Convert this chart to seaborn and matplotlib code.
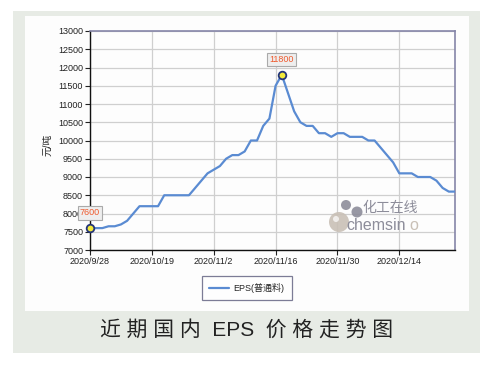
import numpy as np
import pandas as pd
import matplotlib
matplotlib.use("Agg")
import matplotlib.pyplot as plt
from matplotlib.patches import Rectangle, Circle
import seaborn as sns

# EPS price per trading day (yuan/ton)
prices = [7600, 7600, 7600, 7650, 7650, 7700, 7800, 8000, 8200, 8200,
          8200, 8200, 8500, 8500, 8500, 8500, 8500, 8700, 8900, 9100,
          9200, 9300, 9500, 9600, 9600, 9700, 10000, 10000, 10400, 10600,
          11500, 11800, 11300, 10800, 10500, 10400, 10400, 10200, 10200, 10100,
          10200, 10200, 10100, 10100, 10100, 10000, 10000, 9800, 9600, 9400,
          9100, 9100, 9100, 9000, 9000, 9000, 8900, 8700, 8600, 8600]
tick_pos = [0, 10, 20, 30, 40, 50]
tick_labels = ["2020/9/28", "2020/10/19", "2020/11/2", "2020/11/16", "2020/11/30", "2020/12/14"]
highlight = [0, 31]
series_name = "EPS(普通料)"

df = pd.DataFrame({"day": np.arange(len(prices)), "price": prices})

sns.set_style("whitegrid")
plt.rcParams['font.family'] = ['Liberation Sans', 'Noto Sans CJK SC', 'DejaVu Sans']

W, H = 494, 368
fig = plt.figure(figsize=(W / 100, H / 100), dpi=100)
fig.patch.set_facecolor("white")

# background: outer grey-green panel and inner white card (pixel coords)
bg = fig.add_axes([0, 0, 1, 1], zorder=-5)
bg.set_xlim(0, W)
bg.set_ylim(H, 0)
bg.axis("off")
bg.add_patch(Rectangle((13, 11), 467, 342, facecolor="#e7ebe5", edgecolor="none"))
bg.add_patch(Rectangle((25, 16), 444, 295, facecolor="#fdfdfd", edgecolor="none"))

ax = fig.add_axes([90 / W, 1 - 250 / H, 365 / W, 219 / H], zorder=1)
ax.set_facecolor("#fdfdfd")

sns.lineplot(data=df, x="day", y="price", ax=ax, color="#5a8bd2", linewidth=1.6,
             label=series_name, zorder=3)

# highlighted points with value boxes
for i in highlight:
    ax.scatter(df.day[i], df.price[i], s=30, facecolor="#f2e93a", edgecolor="#24357a",
               linewidth=1.3, zorder=5, clip_on=False)
    ax.annotate(f"{df.price[i]}", (df.day[i], df.price[i]), xytext=(0, 11), textcoords="offset points",
                ha="center", va="center", fontsize=6.5, color="#ef5a2e",
                bbox=dict(boxstyle="square,pad=0.25", facecolor="#eeeeee", edgecolor="#aaaaaa", linewidth=0.8),
                zorder=6, annotation_clip=False)

ax.set_xlim(0, len(prices) - 1)
ax.set_ylim(7000, 13000)
ax.set_yticks(np.arange(7000, 13001, 500))
ax.set_xticks(tick_pos)
ax.set_xticklabels(tick_labels)
ax.tick_params(axis="both", labelsize=6.5, colors="#222222", length=3.5, width=0.8, pad=1.5,
               direction="out", left=True, bottom=True)
ax.grid(True, color="#cfcfcf", linewidth=0.9)
ax.set_xlabel("")
ax.set_ylabel("元/吨", fontsize=7, color="#222222")
ax.yaxis.set_label_coords(-38 / 365, 0.48)

for side in ["left", "bottom"]:
    ax.spines[side].set_color("#111111")
    ax.spines[side].set_linewidth(1.0)
for side in ["top", "right"]:
    ax.spines[side].set_color("#8585a8")
    ax.spines[side].set_linewidth(1.2)

leg = ax.legend(loc="center", bbox_to_anchor=(247 / W, 1 - 288 / H), bbox_transform=fig.transFigure,
                fontsize=6.5, frameon=True, fancybox=False, handlelength=2.2, borderpad=0.8,
                handletextpad=0.5)
leg.get_frame().set_edgecolor("#5c5c7c")
leg.get_frame().set_linewidth(0.9)
leg.get_frame().set_facecolor("white")

# watermark on a transparent overlay (pixel coords)
ov = fig.add_axes([0, 0, 1, 1], zorder=2)
ov.set_xlim(0, W)
ov.set_ylim(H, 0)
ov.set_aspect("equal")
ov.axis("off")
ov.patch.set_alpha(0)
for (cx, cy, r, c) in [(339, 222, 10, "#c9c0b6"), (346, 205, 5, "#8d8d9a"), (357, 212, 5.5, "#8d8d9a")]:
    ov.add_patch(Circle((cx, cy), r, facecolor=c, edgecolor="none", alpha=0.9))
ov.add_patch(Circle((336, 219), 3, facecolor="white", edgecolor="none", alpha=0.7))
ov.text(362, 208, "化工在线", fontsize=10, color="#8d8d9a", va="center", ha="left")
ov.text(346, 225, "chemsin", fontsize=11.5, color="#8d8d9a", va="center", ha="left")
ov.text(409, 225, "o", fontsize=11.5, color="#c9c0b6", va="center", ha="left")

fig.text(247 / W, 1 - 330 / H, "近 期 国 内  EPS  价 格 走 势 图", fontsize=15, color="#222222",
         ha="center", va="center")

fig.savefig("out.png", dpi=100)
